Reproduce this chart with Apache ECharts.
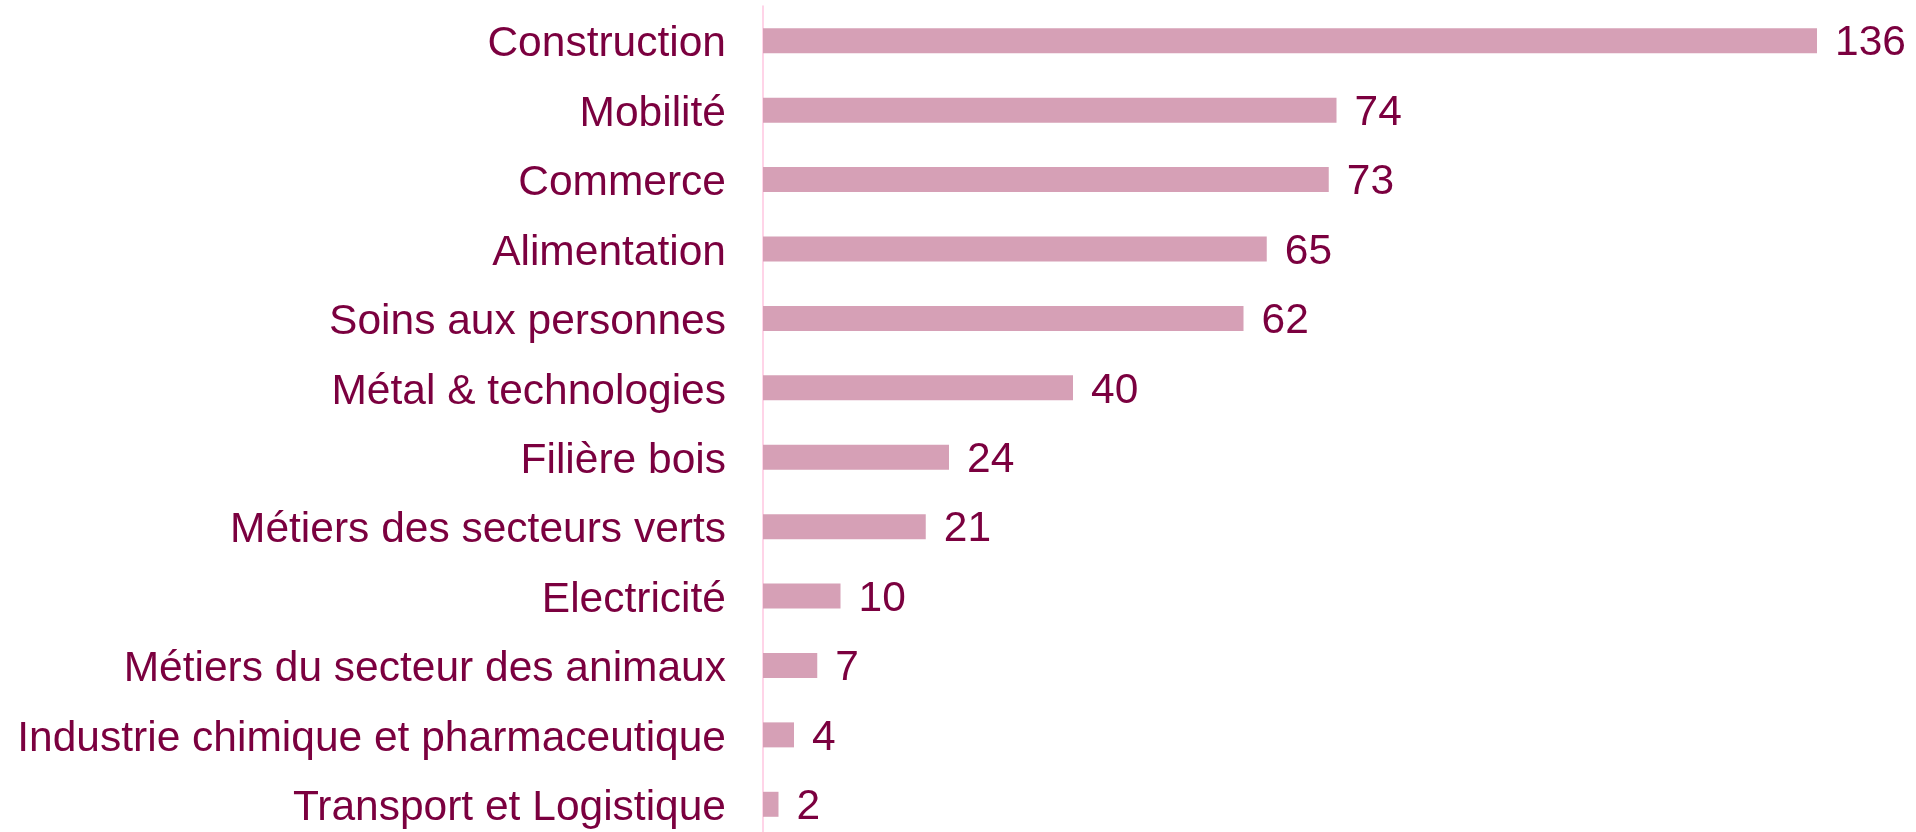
<!DOCTYPE html>
<html>
<head>
<meta charset="utf-8">
<script src="https://cdn.jsdelivr.net/npm/echarts@6/dist/echarts.min.js"></script>
<style>
  html, body { margin: 0; padding: 0; background: #fff; overflow: hidden; }
  #chart { width: 1916px; height: 840px; }
</style>
</head>
<body>
<div id="chart"></div>
<script>
// catégories (de haut en bas) et valeurs
var categories = ['Construction', 'Mobilité', 'Commerce', 'Alimentation', 'Soins aux personnes',
    'Métal & technologies', 'Filière bois', 'Métiers des secteurs verts', 'Electricité',
    'Métiers du secteur des animaux', 'Industrie chimique et pharmaceutique', 'Transport et Logistique'];
var values = [136, 74, 73, 65, 62, 40, 24, 21, 10, 7, 4, 2];

var textColor = '#7b003f';
var chart = echarts.init(document.getElementById('chart'));
// la zone du graphique dépasse un peu le bas de la fenêtre, comme l'original
var option = {
    animation: false,
    grid: { left: 763, right: 99, top: 6, height: 833 },
    xAxis: {
        type: 'value',
        min: 0,
        max: 136,
        show: false
    },
    yAxis: {
        type: 'category',
        inverse: true,
        data: categories,
        axisLine: { show: true, lineStyle: { color: '#ffc6e0', width: 1.5 } },
        axisTick: { show: false },
        axisLabel: {
            color: textColor,
            fontSize: 42.5,
            fontFamily: 'Liberation Sans, Arial, sans-serif',
            margin: 37,
            verticalAlign: 'top',
            lineHeight: 8
        }
    },
    series: [{
        type: 'bar',
        data: values,
        barWidth: 25,
        itemStyle: { color: '#d6a0b6' },
        label: {
            show: true,
            position: 'right',
            distance: 18,
            offset: [0, 3],
            color: textColor,
            fontSize: 42.5,
            fontFamily: 'Liberation Sans, Arial, sans-serif'
        }
    }]
};
chart.setOption(option);
window.addEventListener('resize', function () {
    chart.resize();
});
</script>
</body>
</html>
